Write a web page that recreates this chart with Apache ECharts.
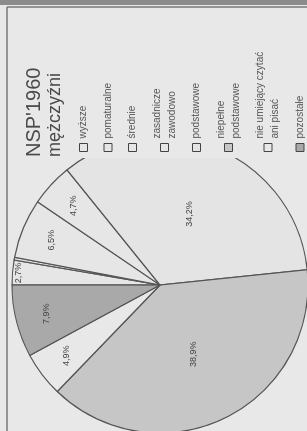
<!DOCTYPE html>
<html><head><meta charset="utf-8">
<script src="https://cdn.jsdelivr.net/npm/echarts@6/dist/echarts.min.js"></script>
<style>
html,body{margin:0;padding:0;overflow:hidden;background:#e8e8e8;width:307px;height:431px}
#c{position:absolute;left:0;top:0;width:431px;height:307px;transform-origin:0 0;transform:translate(0,431px) rotate(-90deg);}
</style></head><body><div id="c"></div>
<script>
const titleText = "NSP'1960";
const subtitleText = "mężczyźni";
const categories = ['wyższe','pomaturalne','średnie','zasadnicze\nzawodowo','podstawowe','niepełne\npodstawowe','nie umiejący czytać\nani pisać','pozostałe'];
const values = [2.7, 0.3, 6.5, 4.7, 34.2, 38.9, 4.9, 7.9];
const valueLabels = ['2,7%','0,3%','6,5%','4,7%','34,2%','38,9%','4,9%','7,9%'];
const sliceColors = ['#e6e6e6','#e6e6e6','#e6e6e6','#e6e6e6','#e4e4e4','#c6c6c6','#e8e8e8','#a9a9a9'];

const BG = '#e8e8e8';
const CX = 146, CY = 160, R = 148;
const font = "'Liberation Sans', Arial, sans-serif";

function tier(v){ return v >= 20 ? 0 : (v >= 4 ? 1 : 2); }

function makeData(t, visible){
  return categories.map((name, i) => ({
    name: name,
    value: values[i],
    itemStyle: visible ? { color: sliceColors[i] } : { color: 'rgba(0,0,0,0)', borderWidth: 0 },
    label: {
      show: tier(values[i]) === t,
      formatter: valueLabels[i]
    }
  }));
}

const labelStyle = { position: 'inside', color: '#444', fontSize: 9, fontFamily: font };

const chart = echarts.init(document.getElementById('c'), null, { renderer: 'canvas' });
chart.setOption({
  backgroundColor: BG,
  animation: false,
  title: {
    text: titleText,
    subtext: subtitleText,
    left: 274, top: 24,
    itemGap: 2,
    padding: 0,
    textStyle: { fontSize: 20, fontWeight: 'normal', color: '#4a4a4a', fontFamily: font },
    subtextStyle: { fontSize: 18, color: '#4a4a4a', fontFamily: font }
  },
  legend: {
    orient: 'vertical',
    left: 279, top: 76,
    width: 140, height: 260,
    padding: 0,
    itemGap: 9.5,
    itemWidth: 8, itemHeight: 8,
    icon: 'rect',
    data: categories,
    itemStyle: { borderColor: '#444', borderWidth: 1 },
    textStyle: { fontSize: 10, lineHeight: 15, color: '#555', fontFamily: font }
  },
  graphic: [
    { type: 'rect', z: 3, shape: { x: 273, y: 8, width: 151, height: 299 }, style: { fill: BG } },
    { type: 'rect', z: 3, shape: { x: 426, y: 0, width: 5, height: 307 }, style: { fill: '#8c8c8c' } },
    { type: 'line', z: 3, shape: { x1: 0, y1: 7, x2: 424, y2: 7 }, style: { stroke: '#7a7a7a', lineWidth: 1.5 } },
    { type: 'line', z: 3, shape: { x1: 424, y1: 7, x2: 424, y2: 307 }, style: { stroke: '#7a7a7a', lineWidth: 1.5 } }
  ],
  series: [
    {
      type: 'pie', center: [CX, CY], radius: [0, R], startAngle: 90, clockwise: true,
      avoidLabelOverlap: false, silent: true,
      itemStyle: { borderColor: '#555', borderWidth: 1.2 },
      label: labelStyle, labelLine: { show: false },
      data: makeData(0, true)
    },
    {
      type: 'pie', center: [CX, CY], radius: [80, R], startAngle: 90, clockwise: true,
      avoidLabelOverlap: false, silent: true, legendHoverLink: false,
      label: labelStyle, labelLine: { show: false },
      data: makeData(1, false)
    },
    {
      type: 'pie', center: [CX, CY], radius: [130, R], startAngle: 90, clockwise: true,
      avoidLabelOverlap: false, silent: true, legendHoverLink: false,
      label: labelStyle, labelLine: { show: false },
      data: makeData(2, false)
    }
  ]
});
</script></body></html>
